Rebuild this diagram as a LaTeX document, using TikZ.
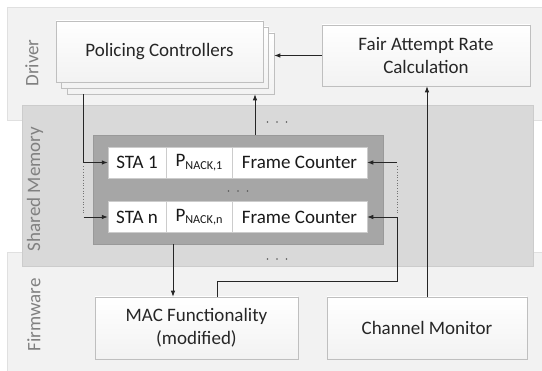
\documentclass[tikz,border=0pt]{standalone}
\usepackage{fontspec}
\setmainfont{Carlito}
\usetikzlibrary{arrows.meta,calc}
\begin{document}
\begin{tikzpicture}[x=1pt,y=-1pt,
  panel/.style={draw=black!12,line width=0.5pt},
  boxst/.style={draw=black!25,line width=0.6pt,top color=white,bottom color=black!5,
    text=black!85,font=\fontsize{19}{23}\selectfont,align=center,inner sep=0pt},
  cell/.style={draw=black!20,line width=0.5pt,fill=white,text=black!90,
    font=\fontsize{19}{23}\selectfont,inner sep=0pt},
  side/.style={rotate=90,text=black!50,font=\fontsize{19}{23}\selectfont,inner sep=0pt},
  conn/.style={line width=0.8pt,draw=black!85},
  arr/.style={conn,-{Latex[length=6pt,width=4.5pt]}},
  dotl/.style={line width=0.7pt,draw=black!55,dotted},
  dotc/.style={fill=black!65,draw=none}
]
\useasboundingbox (0,0) rectangle (542,371);
\fill[white] (0,0) rectangle (542,371);
% panels
\path[panel,fill=black!5] (7,7) rectangle (545,120);
\path[panel,fill=black!5] (7,252) rectangle (545,375);
\path[panel,fill=black!15,draw=black!20] (22,105) rectangle (533,266);
% side labels
\node[side] (ldrv) at (32,63) {Driver};
\node[side] (lshm) at (35,189) {Shared Memory};
\node[side] (lfw) at (34,315) {Firmware};
% policing controllers stack
\node[boxst,minimum width=207pt,minimum height=61pt] (pc3) at (170.5,63.5) {};
\node[boxst,minimum width=207pt,minimum height=61pt] (pc2) at (165,57.5) {};
\node[boxst,minimum width=207pt,minimum height=61pt] (pc) at (159.5,51.5) {Policing Controllers};
% fair attempt rate
\node[boxst,minimum width=208pt,minimum height=61pt] (far) at (426,55.5) {Fair Attempt Rate\\Calculation};
% dark box
\node[fill=black!35,draw=black!40,line width=0.5pt,minimum width=290pt,minimum height=109pt,inner sep=0pt] (dark) at (238,189.5) {};
% rows
\node[cell,minimum width=58pt,minimum height=31pt] (sta1) at (137,162.5) {STA 1};
\node[cell,minimum width=66pt,minimum height=31pt] (p1) at (199,162.5) {P\raisebox{-2.5pt}{\fontsize{12.2}{14}\selectfont NACK,1}};
\node[cell,minimum width=135pt,minimum height=31pt] (fc1) at (299.5,162.5) {Frame Counter};
\node[cell,minimum width=58pt,minimum height=31pt] (stan) at (137,217) {STA n};
\node[cell,minimum width=66pt,minimum height=31pt] (pn) at (199,217) {P\raisebox{-2.5pt}{\fontsize{12.2}{14}\selectfont NACK,n}};
\node[cell,minimum width=135pt,minimum height=31pt] (fcn) at (299.5,217) {Frame Counter};
% firmware boxes
\node[boxst,minimum width=203pt,minimum height=62pt] (mac) at (196.5,328) {MAC Functionality\\(modified)};
\node[boxst,minimum width=200pt,minimum height=62pt] (cm) at (427,328) {Channel Monitor};
% dots
\foreach \cx/\cy in {267.5/122,277/122,286.5/122, 267.5/259,277/259,286.5/259, 228.5/191,238/191,247.5/191}
  \fill[dotc] (\cx,\cy) circle (0.9);
% helper coordinates
\coordinate (lx) at (83.5,0);
\coordinate (rx) at (397,0);
\coordinate (ux) at (255,0);
\coordinate (dx) at (173,0);
\coordinate (mx) at (217,0);
\coordinate (jy) at (0,281);
% connectors
\draw[arr] (far.west) -- (far.west -| pc3.east);
\draw[arr] (ux |- dark.north) -- (ux |- pc3.south);
\draw[arr] (lx |- pc3.south) |- (sta1.west);
\draw[dotl] ($(lx |- sta1.west)+(0,4)$) -- ($(lx |- stan.west)+(0,-4)$);
\draw[arr] (lx |- stan.west) -- (stan.west);
\draw[arr] (rx |- fc1.east) -- (fc1.east);
\draw[dotl] ($(rx |- fc1.east)+(0,4)$) -- ($(rx |- fcn.east)+(0,-4)$);
\draw[arr] (mx |- mac.north) -- (mx |- jy) -- (rx |- jy) -- (rx |- fcn.east) -- (fcn.east);
\draw[arr] (dx |- dark.south) -- (dx |- mac.north);
\draw[arr] (cm.north) -- (cm.north |- far.south);
\end{tikzpicture}
\end{document}
